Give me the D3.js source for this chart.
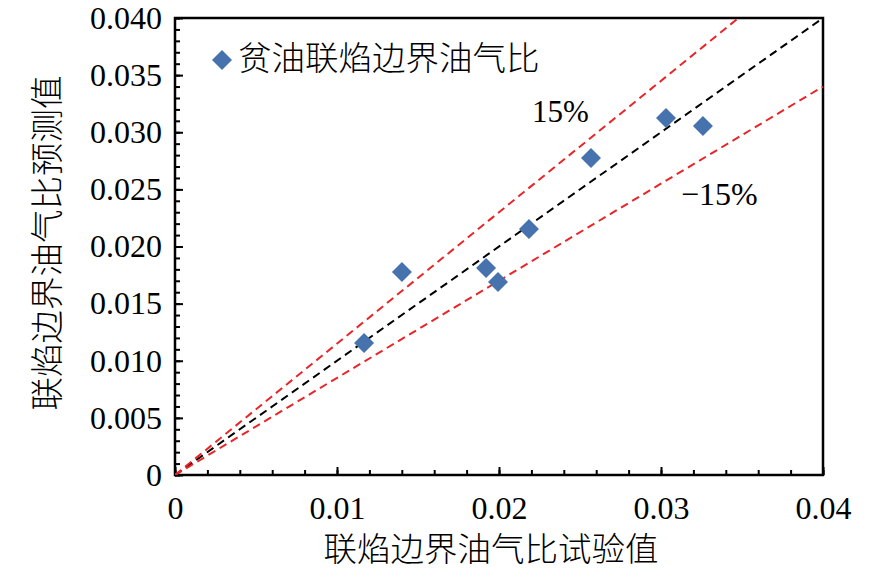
<!DOCTYPE html>
<html>
<head>
<meta charset="utf-8">
<script src="https://cdn.jsdelivr.net/npm/d3@7"></script>
<style>
  body { margin: 0; background: #fff; }
  svg text { font-family: "Liberation Serif", "Times New Roman", Times, "DejaVu Serif", serif; fill: #000; }
  svg text.cjk { font-family: "Noto Sans CJK SC", sans-serif; font-weight: 300; }
</style>
</head>
<body>
<svg id="chart" width="886" height="577"></svg>
<script>
// measured vs predicted, lean blowout fuel/air ratio
const measured  = [0.01167, 0.01401, 0.01920, 0.01994, 0.02185, 0.02568, 0.03031, 0.03259];
const predicted = [0.01155, 0.01777, 0.01812, 0.01689, 0.02153, 0.02775, 0.03125, 0.03055];
const xTicks = [0, 0.01, 0.02, 0.03, 0.04];
const yTicks = [0, 0.005, 0.010, 0.015, 0.020, 0.025, 0.030, 0.035, 0.040];
const refRatios = [1, 1.15, 0.85];
const refColors = ["#000", "#e8262a", "#e8262a"];

const serif = "'Liberation Serif', 'Times New Roman', Times, 'DejaVu Serif', serif";

const svg = d3.select("#chart");
const margin = { top: 18, right: 63, bottom: 102, left: 175 };
const width = +svg.attr("width");
const height = +svg.attr("height");
const innerWidth = width - margin.left - margin.right;
const innerHeight = height - margin.top - margin.bottom;

const g = svg.append("g")
  .attr("transform", `translate(${margin.left}, ${margin.top})`);

const x = d3.scaleLinear().domain([0, 0.04]).range([0, innerWidth]);
const y = d3.scaleLinear().domain([0, 0.04]).range([innerHeight, 0]);

g.append("defs").append("clipPath").attr("id", "clip")
  .append("rect").attr("width", innerWidth).attr("height", innerHeight);

// minor ticks (inward)
g.append("g")
  .attr("transform", `translate(0, ${innerHeight})`)
  .call(d3.axisBottom(x).tickValues(d3.range(0, 0.0401, 0.002)).tickSize(-5).tickFormat(""))
  .call(a => a.select(".domain").remove())
  .call(a => a.selectAll("text").remove())
  .selectAll("line").attr("stroke-width", 2);

g.append("g")
  .call(d3.axisLeft(y).tickValues(d3.range(0, 0.0401, 0.001)).tickSize(-5).tickFormat(""))
  .call(a => a.select(".domain").remove())
  .call(a => a.selectAll("text").remove())
  .selectAll("line").attr("stroke-width", 2);

// major ticks with labels
const xAxis = g.append("g")
  .attr("transform", `translate(0, ${innerHeight})`)
  .call(d3.axisBottom(x).tickValues(xTicks).tickSize(-8).tickPadding(21)
    .tickFormat(d => d === 0 ? "0" : d3.format(".2f")(d)));
xAxis.attr("font-family", serif).attr("font-size", 32);
xAxis.select(".domain").remove();
xAxis.selectAll("line").attr("stroke-width", 2);

const yAxis = g.append("g")
  .call(d3.axisLeft(y).tickValues(yTicks).tickSize(-8).tickPadding(13)
    .tickFormat(d => d === 0 ? "0" : d3.format(".3f")(d)));
yAxis.attr("font-family", serif).attr("font-size", 32);
yAxis.select(".domain").remove();
yAxis.selectAll("line").attr("stroke-width", 2);

// frame
g.append("rect")
  .attr("width", innerWidth)
  .attr("height", innerHeight)
  .attr("fill", "none")
  .attr("stroke", "#000")
  .attr("stroke-width", 2.5);

// reference lines y = k x
const lineG = g.append("g").attr("clip-path", "url(#clip)");
refRatios.forEach((k, i) => {
  lineG.append("line")
    .attr("x1", x(0)).attr("y1", y(0))
    .attr("x2", x(0.04)).attr("y2", y(0.04 * k))
    .attr("stroke", refColors[i])
    .attr("stroke-width", 2)
    .attr("stroke-dasharray", "8,5");
});

// data points
const pts = measured.map((m, i) => ({ m: m, p: predicted[i] }));
g.selectAll(".pt")
  .data(pts)
  .join("path")
  .attr("class", "pt")
  .attr("d", d3.symbol(d3.symbolSquare, 200))
  .attr("transform", d => `translate(${x(d.m)}, ${y(d.p)}) rotate(45)`)
  .attr("fill", "#4672ad");

// annotations
g.append("text").attr("x", 532 - margin.left).attr("y", 122 - margin.top)
  .attr("font-size", "31px").text("15%");
g.append("text").attr("x", 681 - margin.left).attr("y", 205 - margin.top)
  .attr("font-size", "32px").text("\u221215%");

// legend
g.append("path")
  .attr("d", d3.symbol(d3.symbolSquare, 200))
  .attr("transform", `translate(${222 - margin.left}, ${60 - margin.top}) rotate(45)`)
  .attr("fill", "#4672ad");
g.append("text")
  .attr("class", "cjk")
  .attr("x", 238 - margin.left)
  .attr("y", 70 - margin.top)
  .attr("font-size", "33.5px")
  .text("贫油联焰边界油气比");

// axis titles
g.append("text")
  .attr("class", "cjk")
  .attr("x", 491 - margin.left)
  .attr("y", 561 - margin.top)
  .attr("text-anchor", "middle")
  .attr("font-size", "33.5px")
  .text("联焰边界油气比试验值");

g.append("text")
  .attr("class", "cjk")
  .attr("transform", "rotate(-90)")
  .attr("x", -(243 - margin.top))
  .attr("y", 59 - margin.left)
  .attr("text-anchor", "middle")
  .attr("font-size", "33.5px")
  .text("联焰边界油气比预测值");
</script>
</body>
</html>
